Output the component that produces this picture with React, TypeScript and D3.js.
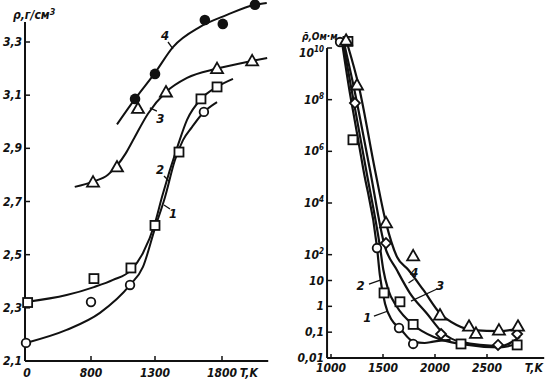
import React from 'react';
import * as d3 from 'd3';

// ---------- Left panel: density vs temperature ----------
const leftXTicks = [0, 800, 1300, 1800];
const leftYTicks = [2.1, 2.3, 2.5, 2.7, 2.9, 3.1, 3.3];

const leftCurve1: [number, number][] = [
  [0, 2.168], [500, 2.217], [870, 2.281], [1105, 2.386], [1206, 2.454], [1300, 2.6],
  [1375, 2.717], [1449, 2.856], [1509, 2.931], [1576, 2.98], [1658, 3.033], [1763, 3.074],
];
const leftCurve2: [number, number][] = [
  [0, 2.322], [500, 2.348], [823, 2.378], [972, 2.405], [1112, 2.442], [1206, 2.506],
  [1300, 2.619], [1352, 2.717], [1472, 2.913], [1539, 3.007], [1651, 3.089], [1763, 3.131], [1882, 3.161],
];
const leftCurve3: [number, number][] = [
  [600, 2.755], [816, 2.775], [930, 2.8], [1003, 2.835], [1070, 2.88], [1128, 2.93], [1245, 3.03], [1382, 3.112],
  [1539, 3.165], [1763, 3.2], [2025, 3.229], [2137, 3.24],
];
const leftCurve4: [number, number][] = [
  [1003, 2.99], [1144, 3.086], [1300, 3.184], [1434, 3.281], [1636, 3.357], [1837, 3.402],
  [2046, 3.44], [2134, 3.447],
];

const leftPts1: [number, number][] = [[0, 2.168], [800, 2.322], [1105, 2.386], [1665, 3.037]];
const leftPts2: [number, number][] = [
  [20, 2.32], [823, 2.41], [1112, 2.45], [1300, 2.61], [1479, 2.886], [1643, 3.086], [1763, 3.131],
];
const leftPts3: [number, number][] = [
  [816, 2.773], [1003, 2.83], [1167, 3.05], [1382, 3.112], [1763, 3.2], [2025, 3.229],
];
const leftPts4: [number, number][] = [[1144, 3.086], [1300, 3.18], [1672, 3.383], [1806, 3.368], [2046, 3.44]];

// label: [text, textT, textV, leaderT1, leaderV1, leaderT2, leaderV2]
const leftLabels: [string, number, number, number, number, number, number][] = [
  ['4', 1375, 3.308, 1397, 3.3, 1434, 3.274],
  ['3', 1340, 2.995, 1314, 3.04, 1260, 3.052],
  ['2', 1337, 2.804, 1367, 2.796, 1404, 2.777],
  ['1', 1434, 2.638, 1412, 2.672, 1367, 2.687],
];

// ---------- Right panel: resistivity vs temperature ----------
const rightXTicks = [1000, 1500, 2000, 2500];
const rightYTicks = [1e10, 1e8, 1e6, 1e4, 100, 10, 1, 0.1, 0.01];

const rightCurve1: [number, number][] = [
  [1110, 1.3e10], [1172, 3.1e8], [1228, 1.6e7], [1312, 1.9e5], [1442, 200], [1470, 16],
  [1519, 1.3], [1583, 0.3], [1663, 0.14], [1792, 0.043], [1900, 0.038], [1984, 0.043], [2150, 0.05],
];
const rightCurve2: [number, number][] = [
  [1120, 1.3e10], [1193, 3.1e8], [1338, 1.9e5], [1471, 200], [1503, 26], [1551, 4.3],
  [1632, 0.98], [1792, 0.19], [1984, 0.066], [2240, 0.035], [2625, 0.026], [2785, 0.035],
];
const rightCurve3: [number, number][] = [
  [1130, 1.3e10], [1219, 3.1e8], [1375, 1.9e5], [1519, 200], [1632, 26], [1760, 3.2],
  [1920, 0.54], [2080, 0.091], [2240, 0.043], [2625, 0.029], [2817, 0.066],
];
const rightCurve4: [number, number][] = [
  [1160, 1.3e10], [1269, 3.1e8], [1423, 1.9e5], [1529, 1700], [1635, 81], [1743, 26],
  [1888, 4.3], [2048, 0.54], [2208, 0.19], [2368, 0.12], [2625, 0.11], [2817, 0.14],
];

const rightPts1: [number, number][] = [[1087, 1.7e10], [1442, 180], [1654, 0.145], [1790, 0.035]];
const rightPts2: [number, number][] = [
  [1163, 1.8e10], [1211, 2.8e6], [1510, 3.3], [1663, 1.5], [1790, 0.2], [2250, 0.035], [2790, 0.032],
];
const rightPts3: [number, number][] = [[1230, 7.4e7], [1529, 280], [2058, 0.085], [2606, 0.032], [2790, 0.085]];
const rightPts4: [number, number][] = [
  [1145, 2e10], [1250, 3.7e8], [1529, 1700], [1790, 90], [2048, 0.46], [2327, 0.17],
  [2394, 0.09], [2615, 0.12], [2798, 0.17],
];

const rightLabels: [string, number, number, number, number, number, number][] = [
  ['1', 1350, 0.25, 1413, 0.42, 1548, 0.66],
  ['2', 1285, 4.3, 1365, 7.3, 1481, 10.5],
  ['3', 2048, 4.3, 2019, 4.7, 1769, 1.6],
  ['4', 1800, 14, 1795, 11, 1745, 8],
];

const FONT = "'DejaVu Sans Condensed', 'DejaVu Sans', sans-serif";

function Circle({ x, y, filled }: { x: number; y: number; filled?: boolean }) {
  return filled ? (
    <circle cx={x} cy={y} r={5.3} fill="#111" />
  ) : (
    <circle cx={x} cy={y} r={4.3} fill="#fff" stroke="#111" strokeWidth={1.8} />
  );
}
function Square({ x, y }: { x: number; y: number }) {
  return <rect x={x - 4.5} y={y - 4.5} width={9} height={9} fill="#fff" stroke="#111" strokeWidth={1.8} />;
}
function Triangle({ x, y }: { x: number; y: number }) {
  const s = 6;
  return (
    <path d={`M${x},${y - s}L${x + s},${y + s * 0.75}L${x - s},${y + s * 0.75}Z`} fill="#fff" stroke="#111" strokeWidth={1.8} />
  );
}
function Diamond({ x, y }: { x: number; y: number }) {
  const s = 5;
  return <path d={`M${x},${y - s}L${x + s},${y}L${x},${y + s}L${x - s},${y}Z`} fill="#fff" stroke="#111" strokeWidth={1.8} />;
}

export default function App() {
  // left scales (broken axis: 0..800 compressed)
  const lx = d3.scaleLinear().domain([0, 800, 1300, 1800]).range([26, 91, 155, 222]);
  const ly = d3.scaleLinear().domain([2.1, 3.3]).range([361, 42]);
  const leftXEnd = 2145;
  const leftYTop = 3.375;

  const rx = d3.scaleLinear().domain([1000, 2500]).range([331, 487]);
  const ry = d3.scaleLog().domain([0.01, 1e10]).range([358, 48]);
  const rightXStart = 962;
  const rightXEnd = 3050;

  const lLine = d3
    .line<[number, number]>()
    .x((d) => lx(d[0]))
    .y((d) => ly(d[1]))
    .curve(d3.curveMonotoneX);
  const rLine = d3
    .line<[number, number]>()
    .x((d) => rx(d[0]))
    .y((d) => ry(d[1]))
    .curve(d3.curveMonotoneX);

  const textStyle: React.CSSProperties = {
    fontFamily: FONT,
    fontStyle: 'italic',
    fontWeight: 'bold',
  };

  const fmtComma = (v: number) => d3.format('.1f')(v).replace('.', ',');

  const rightTickLabel = (v: number) => {
    if (v >= 100) {
      const e = Math.round(Math.log10(v));
      return (
        <>
          10<tspan dy={-5} fontSize={8}>{e}</tspan>
        </>
      );
    }
    return String(v).replace('.', ',');
  };

  const lxAxisY = ly(2.1);
  const rxAxisY = ry(0.01);
  const lyAxisX = lx(0) - 1;
  const ryAxisX = rx(rightXStart);

  return (
    <svg
      width={547}
      height={382}
      style={{ position: 'absolute', left: 0, top: 0, background: '#fff' }}
    >
      <rect width={547} height={382} fill="#fff" />
      {/* ---------------- LEFT PANEL ---------------- */}
      <g stroke="#111" strokeWidth={2} fill="none">
        <line x1={lyAxisX} y1={lxAxisY} x2={lyAxisX} y2={ly(leftYTop)} />
        <line x1={lyAxisX} y1={lxAxisY} x2={lx(leftXEnd)} y2={lxAxisY} />
        {leftYTicks.map((t) => (
          <line key={t} x1={lyAxisX} x2={lyAxisX + 5} y1={ly(t)} y2={ly(t)} strokeWidth={1.5} />
        ))}
        {leftXTicks.slice(1).map((t) => (
          <line key={t} x1={lx(t)} x2={lx(t)} y1={lxAxisY} y2={lxAxisY - 5} strokeWidth={1.5} />
        ))}
      </g>
      <g style={textStyle} fontSize={12} fill="#111">
        {leftYTicks.map((t) => (
          <text key={t} x={lyAxisX - 3} y={ly(t) + 4} textAnchor="end">
            {fmtComma(t)}
          </text>
        ))}
        {leftXTicks.map((t) => (
          <text key={t} x={lx(t) + (t === 0 ? 1 : 0)} y={lxAxisY + 16} textAnchor="middle">
            {String(t)}
          </text>
        ))}
        <text x={lx(2000)} y={lxAxisY + 16} textAnchor="middle">T,K</text>
        <text x={13} y={19}>
          ρ,г/см<tspan dy={-4} fontSize={9}>3</tspan>
        </text>
      </g>
      <g stroke="#111" strokeWidth={2} fill="none">
        {[leftCurve1, leftCurve2, leftCurve3, leftCurve4].map((c, i) => (
          <path key={i} d={lLine(c) || ''} />
        ))}
        {leftLabels.map((l, i) => (
          <line key={i} x1={lx(l[3])} y1={ly(l[4])} x2={lx(l[5])} y2={ly(l[6])} strokeWidth={1.3} />
        ))}
      </g>
      <g style={textStyle} fontSize={13} fill="#111">
        {leftLabels.map((l, i) => (
          <text key={i} x={lx(l[1])} y={ly(l[2])} textAnchor="middle">
            {l[0]}
          </text>
        ))}
      </g>
      <g>
        {leftPts1.map((p, i) => (
          <Circle key={i} x={lx(p[0])} y={ly(p[1])} />
        ))}
        {leftPts2.map((p, i) => (
          <Square key={i} x={lx(p[0])} y={ly(p[1])} />
        ))}
        {leftPts3.map((p, i) => (
          <Triangle key={i} x={lx(p[0])} y={ly(p[1])} />
        ))}
        {leftPts4.map((p, i) => (
          <Circle key={i} x={lx(p[0])} y={ly(p[1])} filled />
        ))}
      </g>

      {/* ---------------- RIGHT PANEL ---------------- */}
      <g stroke="#111" strokeWidth={2} fill="none">
        <line x1={ryAxisX} y1={rxAxisY} x2={ryAxisX} y2={ry(1e10)} />
        <line x1={ryAxisX} y1={rxAxisY} x2={rx(rightXEnd)} y2={rxAxisY} />
        {rightYTicks.map((t) => (
          <line key={t} x1={ryAxisX} x2={ryAxisX + 5} y1={ry(t)} y2={ry(t)} strokeWidth={1.5} />
        ))}
        {rightXTicks.map((t) => (
          <line key={t} x1={rx(t)} x2={rx(t)} y1={rxAxisY} y2={rxAxisY - 4} strokeWidth={1.5} />
        ))}
      </g>
      <g style={textStyle} fontSize={12} fill="#111">
        {rightYTicks.map((t) => (
          <text key={t} x={ryAxisX - 3} y={ry(t) + (t === 1e10 ? 9 : 4)} textAnchor="end">
            {rightTickLabel(t)}
          </text>
        ))}
        {rightXTicks.map((t) => (
          <text key={t} x={rx(t)} y={rxAxisY + 14} textAnchor="middle">
            {String(t)}
          </text>
        ))}
        <text x={rx(2950)} y={rxAxisY + 14} textAnchor="middle">T,K</text>
        <text x={302} y={40} fontSize={10}>ρ̄,Ом·м</text>
      </g>
      <g stroke="#111" strokeWidth={2.2} fill="none">
        {[rightCurve1, rightCurve2, rightCurve3, rightCurve4].map((c, i) => (
          <path key={i} d={rLine(c) || ''} />
        ))}
        {rightLabels.map((l, i) => (
          <line key={i} x1={rx(l[3])} y1={ry(l[4])} x2={rx(l[5])} y2={ry(l[6])} strokeWidth={1.3} />
        ))}
      </g>
      <g style={textStyle} fontSize={13} fill="#111">
        {rightLabels.map((l, i) => (
          <text key={i} x={rx(l[1])} y={ry(l[2])} textAnchor="middle">
            {l[0]}
          </text>
        ))}
      </g>
      <g>
        {rightPts1.map((p, i) => (
          <Circle key={i} x={rx(p[0])} y={ry(p[1])} />
        ))}
        {rightPts2.map((p, i) => (
          <Square key={i} x={rx(p[0])} y={ry(p[1])} />
        ))}
        {rightPts3.map((p, i) => (
          <Diamond key={i} x={rx(p[0])} y={ry(p[1])} />
        ))}
        {rightPts4.map((p, i) => (
          <Triangle key={i} x={rx(p[0])} y={ry(p[1])} />
        ))}
      </g>
    </svg>
  );
}
